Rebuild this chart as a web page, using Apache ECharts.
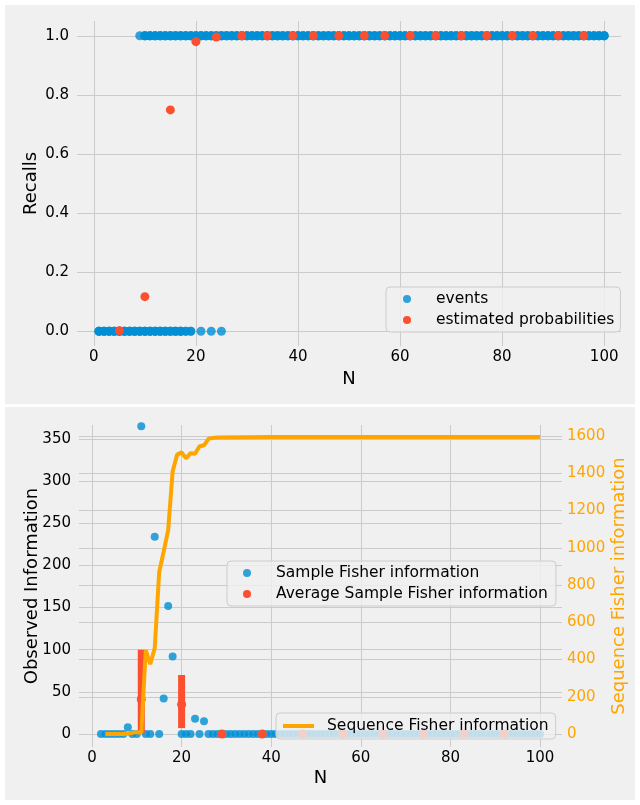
<!DOCTYPE html>
<html>
<head>
<meta charset="utf-8">
<script src="https://cdn.jsdelivr.net/npm/echarts@6/dist/echarts.min.js"></script>
<style>html,body{margin:0;padding:0;background:#fff}#c{width:640px;height:805px}</style>
</head>
<body>
<div id="c"></div>
<script>
// ---------- top panel: recalls ----------
// x positions of the events, and how many events were recorded at each x
var eventZeroX = [1,2,3,4,5,6,7,8,9,10,11,12,13,14,15,16,17,18,19,21,23,25];
var eventZeroCount = [3,3,3,3,3,3,3,3,3,3,3,3,3,3,3,3,3,2,2,1,1,1];
var eventOneX = [9,10,11,12,13,14,15,16,17,18,19,20,21,22,23,24,25,26,27,28,29,30,31,32,33,34,35,36,37,38,39,40,41,42,43,44,45,46,47,48,49,50,51,52,53,54,55,56,57,58,59,60,61,62,63,64,65,66,67,68,69,70,71,72,73,74,75,76,77,78,79,80,81,82,83,84,85,86,87,88,89,90,91,92,93,94,95,96,97,98,99,100];
var eventOneCount = [1,3,3,3,3,3,3,3,3,3,3,3,3,3,3,3,3,3,3,3,3,3,3,3,3,3,3,3,3,3,3,3,3,3,3,3,3,3,3,3,3,3,3,3,3,3,3,3,3,3,3,3,3,3,3,3,3,3,3,3,3,3,3,3,3,3,3,3,3,3,3,3,3,3,3,3,3,3,3,3,3,3,3,3,3,3,3,3,3,3,3,3];
var probX = [5,10,15,20,24,29,34,39,43,48,53,57,62,67,72,77,82,86,91,96];
var probY = [0.002,0.117,0.749,0.98,0.996,1.0,1.0,1.0,1.0,1.0,1.0,1.0,1.0,1.0,1.0,1.0,1.0,1.0,1.0,1.0];
var topXTicks = [0,20,40,60,80,100];
var topYTicks = [0,0.2,0.4,0.6,0.8,1.0];

// ---------- bottom panel: Fisher information ----------
var sampleX = [2,3,4,5,6,7,8,9,10,11,12,13,14,15,16,17,18,20,21,22,23,24,25,26,27,28,29,30,31,32,33,34,35,36,37,38,39,40,41,42,43,44,45,46,47,48,49,50,51,52,53,54,55,56,57,58,59,60,61,62,63,64,65,66,67,68,69,70,71,72,73,74,75,76,77,78,79,80,81,82,83,84,85,86,87,88,89,90,91,92,93,94,95,96,97,98,99,100];
var sampleY = [0,0,0,0,0,0,8,0,0,365,0,0,234,0,42,152,92,0,0,0,18,0,15,0,0,0,0,0,0,0,0,0,0,0,0,0,0,0,0,0,0,0,0,0,0,0,0,0,0,0,0,0,0,0,0,0,0,0,0,0,0,0,0,0,0,0,0,0,0,0,0,0,0,0,0,0,0,0,0,0,0,0,0,0,0,0,0,0,0,0,0,0,0,0,0,0,0,0];
var avgX = [11,20,29,38,47,56,65,74,83,92];
var avgY = [41,35,0,0,0,0,0,0,0,0];
var avgLow = [0,7,0,0,0,0,0,0,0,0];
var avgHigh = [100,70,0,0,0,0,0,0,0,0];
var seqX = [3,4,5,6,7,8,9,10,11,12,13,14,15,16,17,18,19,20,21,22,23,24,25,26,27,28,40,60,80,100];
var seqY = [0,0,0,0,0,3,6,10,6,450,375,460,870,980,1095,1410,1500,1512,1480,1508,1505,1545,1550,1585,1590,1592,1594,1594,1594,1594];
var botXTicks = [0,20,40,60,80,100];
var botYTicks = [0,50,100,150,200,250,300,350];
var botY2Ticks = [0,200,400,600,800,1000,1200,1400,1600];

var BLUE = '#008fd5', RED = '#fc4f30', ORANGE = '#FFA500', GRID = '#cbcbcb';
var FONT = 'DejaVu Sans';

function pairs(xs, ys) { return xs.map(function (x, i) { return [x, ys[i]]; }); }
function repeated(xs, counts, y) {
  var out = [];
  xs.forEach(function (x, i) { for (var k = 0; k < counts[i]; k++) out.push([x, y]); });
  return out;
}

function valAxis(gi, mn, mx, ticks, extra) {
  var a = {
    type: 'value', gridIndex: gi, min: mn, max: mx,
    nameMoveOverlap: false,
    axisLine: { show: false },
    axisTick: { show: false, customValues: ticks },
    axisLabel: { customValues: ticks, color: '#000', fontFamily: FONT, fontSize: 15,
      formatter: function (v) { return String(v); } },
    splitLine: { show: true, lineStyle: { color: GRID, width: 1 } },
    nameTextStyle: { color: '#000', fontFamily: FONT, fontSize: 18 }
  };
  for (var k in extra) {
    if (typeof extra[k] === 'object' && a[k]) { for (var j in extra[k]) a[k][j] = extra[k][j]; }
    else a[k] = extra[k];
  }
  return a;
}

var legendBase = {
  orient: 'vertical', itemWidth: 8, itemHeight: 8, itemGap: 5, icon: 'circle',
  backgroundColor: 'rgba(240,240,240,0.8)', borderColor: '#cccccc', borderWidth: 1, borderRadius: 4,
  textStyle: { color: '#000', fontFamily: FONT, fontSize: 15.5, padding: [0, 0, 0, 20] }
};
function legend(extra) { var o = JSON.parse(JSON.stringify(legendBase)); for (var k in extra) o[k] = extra[k]; return o; }

var option = {
  backgroundColor: '#ffffff',
  animation: false,
  graphic: [
    { type: 'rect', shape: { x: 5, y: 5, width: 630, height: 399 }, style: { fill: '#f0f0f0' }, z: -10, silent: true },
    { type: 'rect', shape: { x: 5, y: 407, width: 630, height: 393 }, style: { fill: '#f0f0f0' }, z: -10, silent: true }
  ],
  grid: [
    { left: 77, top: 21, width: 544, height: 325 },
    { left: 79, top: 425, width: 483, height: 322 }
  ],
  xAxis: [
    valAxis(0, -3.3, 103.3, topXTicks, { name: 'N', nameLocation: 'middle', nameGap: 24, axisLabel: { margin: 4 } }),
    valAxis(1, -2.9, 104.9, botXTicks, { name: 'N', nameLocation: 'middle', nameGap: 22, axisLabel: { margin: 4 } })
  ],
  yAxis: [
    valAxis(0, -0.05, 1.05, topYTicks, { name: 'Recalls', nameLocation: 'middle', nameGap: 37,
      axisLabel: { margin: 8, formatter: function (v) { return v.toFixed(1); } } }),
    valAxis(1, -15.4, 366.6, botYTicks, { name: 'Observed Information', nameLocation: 'middle', nameGap: 38,
      axisLabel: { margin: 8 } }),
    valAxis(1, -69.8, 1659.1, botY2Ticks, { position: 'right', name: 'Sequence Fisher information', nameLocation: 'middle', nameGap: 48,
      axisLabel: { margin: 5, color: ORANGE }, nameTextStyle: { color: ORANGE } })
  ],
  legend: [
    legend({ left: 386, top: 287, padding: [4, 6, 4, 17], data: ['events', 'estimated probabilities'] }),
    legend({ left: 227, top: 561, padding: [4, 8, 4, 16], data: ['Sample Fisher information', 'Average Sample Fisher information'] }),
    legend({ left: 276, top: 713, padding: [5, 7, 5, 7], icon: 'rect', itemWidth: 31, itemHeight: 4,
      textStyle: { color: '#000', fontFamily: FONT, fontSize: 15.5, padding: [0, 0, 0, 8] },
      data: ['Sequence Fisher information'] })
  ],
  series: [
    { name: 'events', type: 'scatter', xAxisIndex: 0, yAxisIndex: 0, symbolSize: 9,
      itemStyle: { color: BLUE, opacity: 0.8 },
      data: repeated(eventZeroX, eventZeroCount, 0).concat(repeated(eventOneX, eventOneCount, 1)) },
    { name: 'estimated probabilities', type: 'scatter', xAxisIndex: 0, yAxisIndex: 0, symbolSize: 9,
      itemStyle: { color: RED, opacity: 1 }, z: 3, data: pairs(probX, probY) },
    { name: 'Sample Fisher information', type: 'scatter', xAxisIndex: 1, yAxisIndex: 1, symbolSize: 8,
      itemStyle: { color: BLUE, opacity: 0.8 }, data: pairs(sampleX, sampleY) },
    { name: 'Average Sample Fisher information', type: 'scatter', xAxisIndex: 1, yAxisIndex: 1, symbolSize: 9,
      itemStyle: { color: RED, opacity: 1 }, z: 3, data: pairs(avgX, avgY) },
    { name: 'avgRange', type: 'custom', xAxisIndex: 1, yAxisIndex: 1, z: 3,
      data: avgX.map(function (x, i) { return [x, avgLow[i], avgHigh[i]]; }),
      renderItem: function (params, api) {
        var lo = api.coord([api.value(0), api.value(1)]);
        var hi = api.coord([api.value(0), api.value(2)]);
        if (Math.abs(lo[1] - hi[1]) < 1) return null;
        return { type: 'rect', shape: { x: lo[0] - 3.5, y: hi[1], width: 7, height: lo[1] - hi[1] }, style: { fill: RED } };
      } },
    { name: 'Sequence Fisher information', type: 'line', xAxisIndex: 1, yAxisIndex: 2, z: 4,
      symbol: 'none', lineStyle: { color: ORANGE, width: 4 }, itemStyle: { color: ORANGE },
      data: pairs(seqX, seqY) }
  ]
};
var chart = echarts.init(document.getElementById('c'), null, { renderer: 'canvas' });
chart.setOption(option);
</script>
</body>
</html>
